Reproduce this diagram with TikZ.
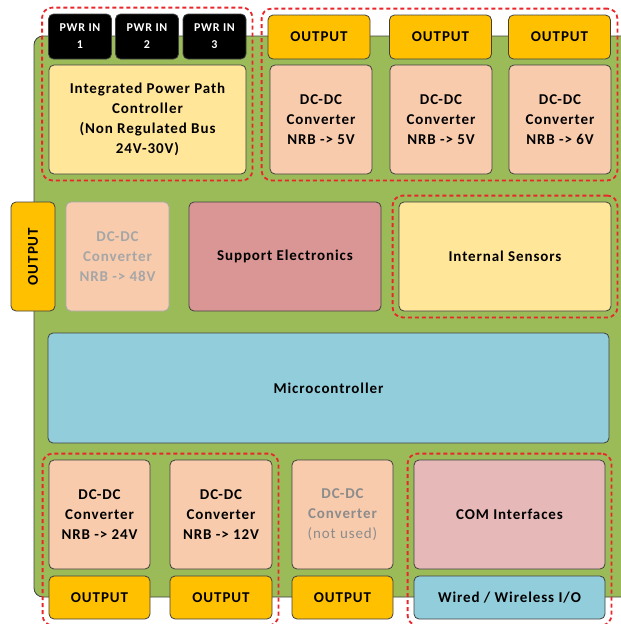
\documentclass[tikz,border=0pt]{standalone}
\usepackage{fontspec}
\setmainfont{Carlito}[LetterSpace=6]
\usepackage{xcolor}
\usepackage{tikz}
\usetikzlibrary{positioning,fit}
\definecolor{boardGreen}{HTML}{9BBB59}
\definecolor{pwrBlack}{HTML}{000000}
\definecolor{ppYellow}{HTML}{FFE699}
\definecolor{outOrange}{HTML}{FFC000}
\definecolor{dcPeach}{HTML}{F8CBAD}
\definecolor{suppRose}{HTML}{D99694}
\definecolor{mcuBlue}{HTML}{92CDDC}
\definecolor{comPink}{HTML}{E6B9B8}
\definecolor{edge}{HTML}{404040}
\definecolor{grpRed}{HTML}{E8262B}

\begin{document}
\begin{tikzpicture}[x=1pt,y=-1pt,
  box/.style={draw=edge,line width=0.8pt,rounded corners=5pt,align=center,inner sep=2pt,
    font=\fontsize{15}{20}\selectfont\bfseries},
  pwr/.style={box,fill=pwrBlack,text=white,minimum width=63pt,minimum height=45pt,
    font=\fontsize{12}{17}\selectfont\bfseries},
  outbox/.style={box,fill=outOrange},
  dcbox/.style={box,fill=dcPeach,minimum width=102pt,minimum height=109pt},
  grp/.style={draw=grpRed,line width=1.8pt,dash pattern=on 4pt off 3pt,rounded corners=10pt,inner sep=6pt}]
\useasboundingbox (0,0) rectangle (621,624);
\clip (0,0) rectangle (621,624);
% board
\draw[draw=edge,line width=0.8pt,fill=boardGreen,rounded corners=9pt] (34,36) rectangle (660,597);
% power input and power path
\node[pwr] (pwrA) at (80,36.5) {PWR IN\\1};
\node[pwr] (pwrB) at (147,36.5) {PWR IN\\2};
\node[pwr] (pwrC) at (214.5,36.5) {PWR IN\\3};
\node[box,fill=ppYellow,minimum width=197pt,minimum height=109pt] (ppc) at (147.5,119.5)
  {Integrated Power Path\\Controller\\(Non Regulated Bus\\24V-30V)};
% top converters
\node[outbox,minimum width=102pt,minimum height=44pt] (outA) at (319,37) {OUTPUT};
\node[outbox,minimum width=102pt,minimum height=44pt] (outB) at (440.5,37) {OUTPUT};
\node[outbox,minimum width=102pt,minimum height=44pt] (outC) at (559.5,37) {OUTPUT};
\node[dcbox] (dcA) at (321,119.5) {DC-DC\\Converter\\NRB -> 5V};
\node[dcbox] (dcB) at (441,119.5) {DC-DC\\Converter\\NRB -> 5V};
\node[dcbox] (dcC) at (560,119.5) {DC-DC\\Converter\\NRB -> 6V};
% middle row
\node[outbox,rotate=90,minimum width=109pt,minimum height=44pt] (outL) at (33,256.5) {OUTPUT};
\node[dcbox,draw=edge!45,text=black!35,minimum width=103pt] (dcL) at (117.5,256.5) {DC-DC\\Converter\\NRB -> 48V};
\node[box,fill=suppRose,minimum width=192pt,minimum height=109pt] (supp) at (285,256.5) {Support Electronics};
\node[box,fill=ppYellow,minimum width=212pt,minimum height=109pt] (sens) at (505,256.5) {Internal Sensors};
\node[box,fill=mcuBlue,minimum width=561pt,minimum height=110pt] (mcu) at (328.5,388) {Microcontroller};
% bottom row
\node[dcbox,minimum width=101pt] (dcD) at (99.5,514.5) {DC-DC\\Converter\\NRB -> 24V};
\node[dcbox] (dcE) at (221,514.5) {DC-DC\\Converter\\NRB -> 12V};
\node[dcbox,text=black!45,minimum width=101pt] (dcF) at (342.5,514.5) {DC-DC\\Converter\\\mdseries(not used)};
\node[box,fill=comPink,minimum width=191pt,minimum height=109pt] (com) at (509.5,514.5) {COM Interfaces};
\node[outbox,minimum width=101pt,minimum height=43pt] (outD) at (99.5,597.5) {OUTPUT};
\node[outbox,minimum width=102pt,minimum height=43pt] (outE) at (221,597.5) {OUTPUT};
\node[outbox,minimum width=101pt,minimum height=43pt] (outF) at (342.5,597.5) {OUTPUT};
\node[box,fill=mcuBlue,minimum width=191pt,minimum height=43pt] (io) at (509.5,597.5) {Wired / Wireless I/O};
% groups
\node[grp,fit=(pwrA)(ppc)] {};
\node[grp,fit=(outA)(dcC)] {};
\node[grp,fit=(sens)] {};
\node[grp,fit=(dcD)(outE)] {};
\node[grp,fit=(com)(io)] {};
\end{tikzpicture}
\end{document}
